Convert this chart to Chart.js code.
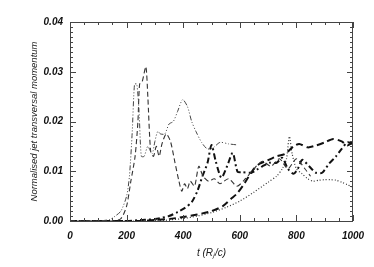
<!DOCTYPE html>
<html>
<head>
<meta charset="utf-8">
<script src="https://cdn.jsdelivr.net/npm/chart.js@4"></script>
<style>
  html, body { margin: 0; padding: 0; background: #fff; }
  #wrap { width: 374px; height: 267px; }
</style>
</head>
<body>
<div id="wrap"><canvas id="momentum-chart"></canvas></div>
<script>
// values: time in R_j/c, normalised transversal momentum
const tThinDashDot = [0, 100, 140, 160, 180, 200, 210, 220, 228, 236, 244, 252, 262, 275, 290, 300, 310, 320, 335, 350, 365, 380, 398, 415, 430, 445, 465, 485, 505, 530, 560, 590];
const pThinDashDot = [0, 0, 0.0003, 0.001, 0.002, 0.005, 0.009, 0.018, 0.0275, 0.0275, 0.022, 0.013, 0.013, 0.015, 0.0135, 0.016, 0.018, 0.0175, 0.0175, 0.0195, 0.02, 0.022, 0.0244, 0.023, 0.02, 0.018, 0.0158, 0.0145, 0.0147, 0.0158, 0.0155, 0.0153];

const tThinDash = [0, 150, 180, 200, 215, 230, 240, 246, 255, 268, 275, 285, 295, 305, 315, 325, 340, 355, 370, 385, 395, 405, 415, 425, 440, 455, 470, 490, 510, 530, 560, 590, 620, 650, 680, 710, 740, 770, 800, 830, 850];
const pThinDash = [0, 0, 0.0005, 0.003, 0.008, 0.013, 0.02, 0.0275, 0.028, 0.031, 0.025, 0.014, 0.013, 0.015, 0.013, 0.0155, 0.0175, 0.016, 0.012, 0.008, 0.006, 0.0075, 0.0065, 0.008, 0.007, 0.011, 0.009, 0.008, 0.0085, 0.0075, 0.0085, 0.007, 0.0085, 0.0105, 0.012, 0.011, 0.0125, 0.0105, 0.0125, 0.0105, 0.009];

const tThickDashDot = [0, 200, 250, 300, 350, 380, 405, 430, 450, 468, 486, 500, 515, 535, 555, 575, 592, 610, 640, 660, 680, 705, 730, 750, 770, 790, 805, 821, 845, 869, 891, 915, 940, 960, 980, 1000];
const pThickDashDot = [0, 0, 0.0002, 0.0004, 0.001, 0.0018, 0.0026, 0.0038, 0.006, 0.009, 0.0117, 0.0153, 0.012, 0.0087, 0.011, 0.0137, 0.0099, 0.0098, 0.0097, 0.0103, 0.011, 0.0117, 0.0117, 0.0127, 0.0105, 0.0095, 0.0105, 0.0123, 0.011, 0.0097, 0.0097, 0.0115, 0.013, 0.0145, 0.0158, 0.0155];

const tThickDash = [0, 250, 300, 350, 400, 450, 500, 540, 570, 590, 610, 630, 650, 670, 690, 710, 730, 760, 790, 810, 840, 870, 900, 930, 960, 980, 1000];
const pThickDash = [0, 0, 0.0002, 0.0004, 0.0008, 0.0013, 0.002, 0.003, 0.0045, 0.0055, 0.007, 0.0088, 0.0105, 0.0115, 0.012, 0.0125, 0.013, 0.0135, 0.015, 0.0155, 0.0148, 0.0152, 0.0158, 0.0165, 0.016, 0.0152, 0.0158];

const tDotted = [0, 300, 400, 450, 500, 550, 600, 650, 700, 730, 750, 765, 775, 785, 800, 820, 840, 860, 880, 900, 920, 940, 960, 980, 1000];
const pDotted = [0, 0, 0.0005, 0.001, 0.0017, 0.0027, 0.004, 0.0058, 0.0078, 0.009, 0.0105, 0.0125, 0.017, 0.0135, 0.0105, 0.0095, 0.0085, 0.008, 0.0082, 0.0083, 0.0083, 0.0082, 0.0078, 0.0073, 0.0068];

const xTicks = [0, 200, 400, 600, 800, 1000];
const yTicks = [0, 0.01, 0.02, 0.03, 0.04];

const FONT = 'Liberation Sans, Arial, sans-serif';

function toPoints(ts, ps) {
    return ts.map((t, i) => ({ x: t, y: ps[i] }));
}

function lineSet(ts, ps, color, width, dash) {
    return {
        data: toPoints(ts, ps),
        borderColor: color,
        borderWidth: width,
        borderDash: dash,
        pointRadius: 0,
        tension: 0.25,
        fill: false,
    };
}

// IDL style box with inward ticks on all four sides
const boxTicks = {
    id: 'boxTicks',
    afterDraw(chart) {
        const { ctx, chartArea: a, scales: { x, y } } = chart;
        ctx.save();
        ctx.strokeStyle = '#444';
        ctx.lineWidth = 1;
        ctx.strokeRect(a.left + 0.5, a.top + 0.5, a.right - a.left - 1, a.bottom - a.top);
        ctx.beginPath();
        for (let t = 0; t <= 1000; t += 50) {
            const px = Math.round(x.getPixelForValue(t)) + 0.5;
            const len = t % 200 === 0 ? 6 : 3;
            ctx.moveTo(px, a.bottom); ctx.lineTo(px, a.bottom - len);
            ctx.moveTo(px, a.top); ctx.lineTo(px, a.top + len);
        }
        for (let k = 0; k <= 40; k++) {
            const py = Math.round(y.getPixelForValue(k / 1000)) + 0.5;
            const len = k % 10 === 0 ? 6 : 3;
            ctx.moveTo(a.left, py); ctx.lineTo(a.left + len, py);
            ctx.moveTo(a.right, py); ctx.lineTo(a.right - len, py);
        }
        ctx.stroke();
        ctx.restore();
    }
};

new Chart(document.getElementById('momentum-chart'), {
    type: 'line',
    data: {
        datasets: [
            lineSet(tThinDashDot, pThinDashDot, '#444', 1, [5, 2, 1, 2, 1, 2, 1, 2]),
            lineSet(tThinDash, pThinDash, '#333', 1.1, [5, 3]),
            lineSet(tThickDashDot, pThickDashDot, '#111', 2, [6, 3, 2, 3]),
            lineSet(tThickDash, pThickDash, '#111', 2, [7, 4]),
            lineSet(tDotted, pDotted, '#333', 1.2, [1, 2]),
        ]
    },
    options: {
        responsive: true,
        maintainAspectRatio: false,
        animation: false,
        layout: { padding: { left: 0, right: 21, top: 22, bottom: 0 } },
        plugins: {
            legend: { display: false },
            tooltip: { enabled: false },
        },
        scales: {
            x: {
                type: 'linear',
                min: 0,
                max: 1000,
                afterFit: s => { s.height = 46; },
                afterBuildTicks: s => { s.ticks = xTicks.map(v => ({ value: v })); },
                grid: { display: false, drawTicks: false },
                border: { display: false },
                ticks: {
                    padding: 9,
                    color: '#111',
                    font: { family: FONT, size: 10, style: 'italic', weight: 'bold' },
                    maxRotation: 0,
                    callback: v => String(v),
                },
                title: {
                    display: true,
                    text: 't (Rⱼ/c)',
                    color: '#222',
                    font: { family: FONT, size: 10, style: 'italic' },
                    padding: { top: 0, bottom: 8 },
                }
            },
            y: {
                min: 0,
                max: 0.04,
                afterFit: s => { s.width = 70; },
                afterBuildTicks: s => { s.ticks = yTicks.map(v => ({ value: v })); },
                grid: { display: false, drawTicks: false },
                border: { display: false },
                ticks: {
                    padding: 7,
                    color: '#111',
                    font: { family: FONT, size: 10, style: 'italic', weight: 'bold' },
                    callback: v => v.toFixed(2),
                },
                title: {
                    display: true,
                    text: 'Normalised jet transversal momentum',
                    color: '#222',
                    font: { family: FONT, size: 9.5, style: 'italic' },
                    padding: { top: 29, bottom: 0 },
                }
            }
        }
    },
    plugins: [boxTicks]
});
</script>
</body>
</html>
